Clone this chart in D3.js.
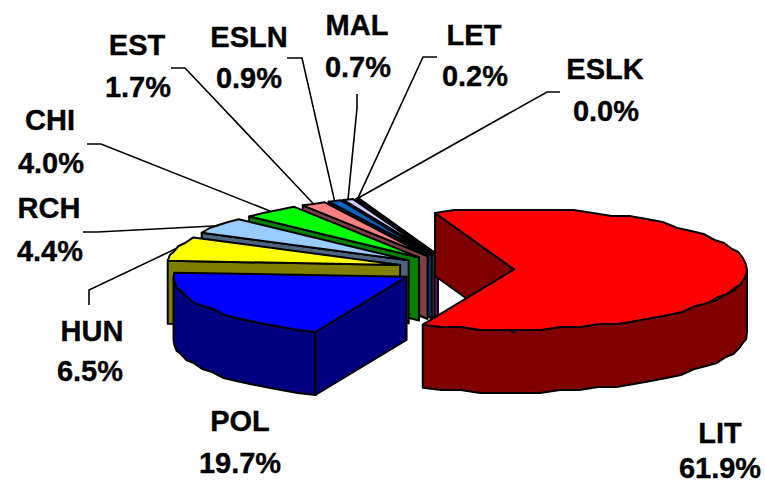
<!DOCTYPE html>
<html><head><meta charset="utf-8">
<script src="https://cdn.jsdelivr.net/npm/d3@7"></script>
<style>html,body{margin:0;padding:0;background:#fff}svg{display:block}text{font-family:"Liberation Sans",Arial,sans-serif;font-weight:bold;font-size:29px;fill:#000;stroke:#000;stroke-width:.35px;text-anchor:middle}</style>
</head><body><svg id="c" width="765" height="484"></svg>
<script>
// Data
const categories = ["LIT","POL","HUN","RCH","CHI","EST","ESLN","MAL","LET","ESLK"];
const shares = [61.9,19.7,6.5,4.4,4.0,1.7,0.9,0.7,0.2,0.0];
const sliceColors = ["#ff0000","#0000ff","#ffff00","#99ccff","#00ff00","#ff8080","#0066cc","#ccccff","#ff00ff","#000080"];
const paintOrder = ["ESLK","LET","MAL","ESLN","EST","CHI","RCH","HUN","POL","LIT"];

// Layout: label centre x, name baseline, share centre x, share baseline
const labelLayout = {
  LIT:[720,443,720,478], POL:[240,431,240,473], HUN:[92,341,90,381], RCH:[49,218,50,261],
  CHI:[50,130,51,173], EST:[137,55,138,97], ESLN:[249,47,249,88], MAL:[357,35,358,77],
  LET:[474,45,475,86], ESLK:[605,79,606,121]
};
// Layout: leader elbow polyline running from the label side toward the slice
const leaderLayout = {
  HUN:[[89,305],[89,290]], RCH:[[83,232],[97,232]], CHI:[[87,144],[101,144]],
  EST:[[171,68],[185,68]], ESLN:[[287,58],[302,58]], MAL:[[357,94],[357,108]],
  LET:[[437,57],[423,57]], ESLK:[[560,92],[547,92]]
};
// Layout: extra horizontal shift of a thin slice so that its wall stays visible
const apexNudge = {LET:2};

const cx=456, cy=269, rx=233, ry=60, depth=63, explode=58, startDeg=-19.8;
const svg=d3.select("#c");
const color=d3.scaleOrdinal(categories,sliceColors);
const wall=n=>{const c=d3.rgb(color(n));return d3.rgb(c.r/2,c.g/2,c.b/2).formatHex();};
const pie=d3.pie().sort(null).value(d=>d.v).startAngle(startDeg*Math.PI/180).endAngle(startDeg*Math.PI/180+2*Math.PI);
const arcs=pie(categories.map((n,i)=>({n,v:shares[i]})));
const byName=new Map(arcs.map(a=>[a.data.n,a]));
const q=v=>Math.round(v/3)*3;
const line=d3.line();

function apex(a){const m=(a.startAngle+a.endAngle)/2;
  return [cx+explode*Math.sin(m)+(apexNudge[a.data.n]||0), cy-explode*ry/rx*Math.cos(m)];}
function rim(a,t){const p=apex(a);return [p[0]+rx*Math.sin(t),p[1]-ry*Math.cos(t)];}
function rimPts(a,t0,t1,rough){
  const n=Math.max(1,Math.ceil((t1-t0)/(5*Math.PI/180))),out=[];
  for(let i=0;i<=n;i++){const p=rim(a,t0+(t1-t0)*i/n);
    out.push(rough&&i>0&&i<n?[p[0],q(p[1])]:p);}
  return out;}
const down=p=>[p[0],p[1]+depth];
function path(pts,fill){svg.append("path").attr("d",line(pts)+"Z").attr("fill",fill)
  .attr("stroke","#000").attr("stroke-width",2).attr("stroke-linejoin","round");}

paintOrder.forEach(name=>{
  const a=byName.get(name),o=apex(a),t0=a.startAngle,t1=a.endAngle;
  const f0=Math.max(t0,Math.PI/2),f1=Math.min(t1,3*Math.PI/2);
  if(f1>f0){const top=rimPts(a,f0,f1,true);
    path(top.concat(top.slice().reverse().map(down)),wall(name));}
  const s=rim(a,t0);
  path([o,s,down(s),down(o)],wall(name));
  path([o].concat(rimPts(a,t0,t1,true)),color(name));
});

// leaders
Object.keys(leaderLayout).forEach(name=>{
  const a=byName.get(name),m=(a.startAngle+a.endAngle)/2;
  const pts=leaderLayout[name].concat([rim(a,m)]);
  svg.append("path").attr("d",line(pts)).attr("fill","none").attr("stroke","#000").attr("stroke-width",1.6);
});
// labels
categories.forEach((n,i)=>{
  const l=labelLayout[n];
  svg.append("text").attr("x",l[0]).attr("y",l[1]).text(n);
  svg.append("text").attr("x",l[2]).attr("y",l[3]).text(d3.format(".1f")(shares[i])+"%");
});
</script></body></html>
